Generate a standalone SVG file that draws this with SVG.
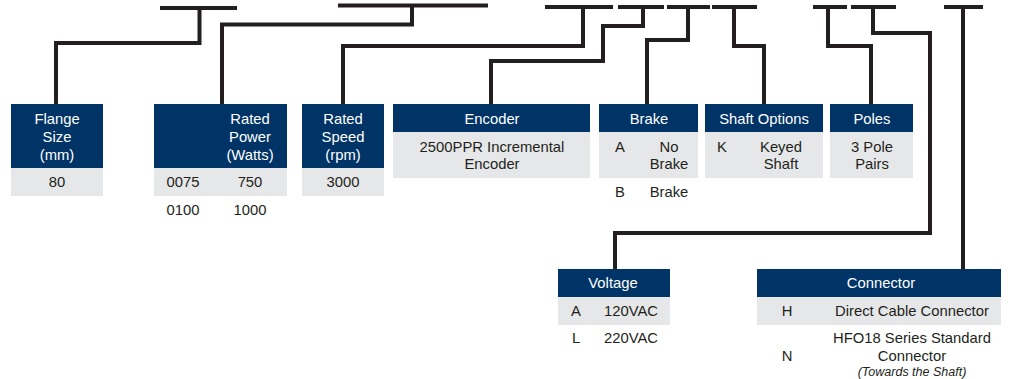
<svg xmlns="http://www.w3.org/2000/svg" width="1010" height="379" viewBox="0 0 1010 379">
<style>
.hd{fill:#003466}
.rw{fill:#e6e7e8}
text{font-family:"Liberation Sans",Arial,sans-serif;font-size:14.8px;text-anchor:middle;dominant-baseline:central}
.w{fill:#ffffff}
.k{fill:#231f20}
.it{font-style:italic;font-size:12.5px}
.ln{fill:none;stroke:#231f20;stroke-width:4;stroke-linejoin:miter;stroke-linecap:butt}
</style>
<rect width="1010" height="379" fill="#ffffff"/>
<g id="connectors">
<path class="ln" d="M160,8H237M199.5,8V43H56V104"/>
<path class="ln" d="M338,5.5H488M412,5.5V24.5H222V104"/>
<path class="ln" d="M545,7H613M583,7V46H343V104"/>
<path class="ln" d="M618,7H664M643,7V26H603V61H491V104"/>
<path class="ln" d="M667,7H710M688,7V40H647V104"/>
<path class="ln" d="M712,7H757M734,7V46H764V104"/>
<path class="ln" d="M813,7H847M828,7V46H871V104"/>
<path class="ln" d="M851,7H896M873,7V33H930V233H615V269"/>
<path class="ln" d="M944,7H983M963,7V269"/>
</g>
<g id="flange">
<rect class="hd" x="11" y="104" width="92" height="64"/>
<rect class="rw" x="11" y="168" width="92" height="28"/>
<text class="w" x="57" y="119">Flange</text>
<text class="w" x="57" y="137">Size</text>
<text class="w" x="57" y="155">(mm)</text>
<text class="k" x="57" y="182">80</text>
</g>
<g id="power">
<rect class="hd" x="154" y="104" width="133" height="64"/>
<rect class="rw" x="154" y="168" width="133" height="28"/>
<text class="w" x="250" y="119">Rated</text>
<text class="w" x="250" y="137">Power</text>
<text class="w" x="250" y="155">(Watts)</text>
<text class="k" x="183" y="182">0075</text>
<text class="k" x="250" y="182">750</text>
<text class="k" x="183" y="210">0100</text>
<text class="k" x="250" y="210">1000</text>
</g>
<g id="speed">
<rect class="hd" x="302" y="104" width="82" height="64"/>
<rect class="rw" x="302" y="168" width="82" height="28"/>
<text class="w" x="343" y="119">Rated</text>
<text class="w" x="343" y="137">Speed</text>
<text class="w" x="343" y="155">(rpm)</text>
<text class="k" x="343" y="182">3000</text>
</g>
<g id="encoder">
<rect class="hd" x="393" y="104" width="197" height="28"/>
<rect class="rw" x="393" y="132" width="197" height="46"/>
<text class="w" x="492" y="119">Encoder</text>
<text class="k" x="492" y="147">2500PPR Incremental</text>
<text class="k" x="492" y="164">Encoder</text>
</g>
<g id="brake">
<rect class="hd" x="599" y="104" width="99" height="28"/>
<rect class="rw" x="599" y="132" width="99" height="46"/>
<text class="w" x="649" y="119">Brake</text>
<text class="k" x="620" y="147">A</text>
<text class="k" x="669" y="147">No</text>
<text class="k" x="669" y="164">Brake</text>
<text class="k" x="620" y="192">B</text>
<text class="k" x="669" y="192">Brake</text>
</g>
<g id="shaft">
<rect class="hd" x="705" y="104" width="118" height="28"/>
<rect class="rw" x="705" y="132" width="118" height="46"/>
<text class="w" x="764" y="119">Shaft Options</text>
<text class="k" x="722" y="147">K</text>
<text class="k" x="781" y="147">Keyed</text>
<text class="k" x="781" y="164">Shaft</text>
</g>
<g id="poles">
<rect class="hd" x="830" y="104" width="83" height="28"/>
<rect class="rw" x="830" y="132" width="83" height="46"/>
<text class="w" x="872" y="119">Poles</text>
<text class="k" x="872" y="147">3 Pole</text>
<text class="k" x="872" y="164">Pairs</text>
</g>
<g id="voltage">
<rect class="hd" x="558" y="269" width="112" height="28"/>
<rect class="rw" x="558" y="297" width="112" height="28"/>
<text class="w" x="613" y="283">Voltage</text>
<text class="k" x="576" y="311">A</text>
<text class="k" x="631" y="311">120VAC</text>
<text class="k" x="576" y="338">L</text>
<text class="k" x="631" y="338">220VAC</text>
</g>
<g id="connector">
<rect class="hd" x="757" y="269" width="244" height="28"/>
<rect class="rw" x="757" y="297" width="244" height="28"/>
<text class="w" x="881" y="283">Connector</text>
<text class="k" x="787" y="311">H</text>
<text class="k" x="912" y="311">Direct Cable Connector</text>
<text class="k" x="787" y="356">N</text>
<text class="k" x="912" y="338">HFO18 Series Standard</text>
<text class="k" x="912" y="356">Connector</text>
<text class="k it" x="912" y="372">(Towards the Shaft)</text>
</g>
</svg>
